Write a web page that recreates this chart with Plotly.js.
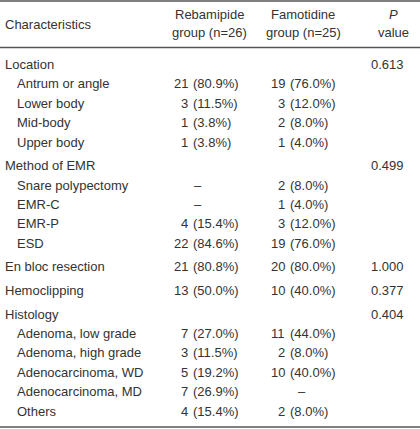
<!DOCTYPE html>
<html>
<head>
<meta charset="utf-8">
<script src="https://cdn.plot.ly/plotly-3.0.1.min.js"></script>
<style>html,body{margin:0;padding:0;background:#fff;}#chart{width:420px;height:429px;}</style>
</head>
<body>
<div id="chart"></div>
<script>
// ---- data ----
var labels = ["Location","Antrum or angle","Lower body","Mid-body","Upper body",
  "Method of EMR","Snare polypectomy","EMR-C","EMR-P","ESD",
  "En bloc resection","Hemoclipping",
  "Histology","Adenoma, low grade","Adenoma, high grade","Adenocarcinoma, WD","Adenocarcinoma, MD","Others"];
var level = [0,1,1,1,1, 0,1,1,1,1, 0,0, 0,1,1,1,1,1];
var groupIndex = [0,0,0,0,0, 1,1,1,1,1, 2,3, 4,4,4,4,4,4];
var rebCount = ["","21","3","1","1", "","","","4","22", "21","13", "","7","3","5","7","4"];
var rebPct   = ["","(80.9%)","(11.5%)","(3.8%)","(3.8%)", "","","","(15.4%)","(84.6%)", "(80.8%)","(50.0%)", "","(27.0%)","(11.5%)","(19.2%)","(26.9%)","(15.4%)"];
var famCount = ["","19","3","2","1", "","2","1","3","19", "20","10", "","11","2","10","","2"];
var famPct   = ["","(76.0%)","(12.0%)","(8.0%)","(4.0%)", "","(8.0%)","(4.0%)","(12.0%)","(76.0%)", "(80.0%)","(40.0%)", "","(44.0%)","(8.0%)","(40.0%)","","(8.0%)"];
var rebDash  = [false,false,false,false,false, false,true,true,false,false, false,false, false,false,false,false,false,false];
var famDash  = [false,false,false,false,false, false,false,false,false,false, false,false, false,false,false,false,true,false];
var pValue   = ["0.613","","","","", "0.499","","","","", "1.000","0.377", "0.404","","","","",""];
var headerCol1 = "Characteristics";
var headerReb = ["Rebamipide","group (n=26)"];
var headerFam = ["Famotidine","group (n=25)"];
var headerP = ["<i>P</i>","value"];

// ---- layout ----
var FONT = {family:"Liberation Sans, Arial, sans-serif", size:13, color:"#333333"};
var yStart = 64.5, pitch = 19.4, gap = 4.2;
var xLabel = [3,15], xRebSplit = 190, xFamSplit = 287, xP = 406, xRebDash = 198, xFamDash = 302;

var ann = [];
function add(x,y,text,anchor){
  ann.push({x:x,y:y,xref:'x',yref:'y',text:text,showarrow:false,xanchor:anchor,yanchor:'middle',font:FONT});
}
add(3,24,headerCol1,'left');
add(209,14.5,headerReb[0],'center'); add(209,32.5,headerReb[1],'center');
add(303,14.5,headerFam[0],'center'); add(303,32.5,headerFam[1],'center');
add(393,14.5,headerP[0],'center'); add(393,32.5,headerP[1],'center');

for (var i=0;i<labels.length;i++){
  var y = yStart + i*pitch + groupIndex[i]*gap;
  add(xLabel[level[i]], y, labels[i], 'left');
  if (rebCount[i]) { add(xRebSplit, y, rebCount[i], 'right'); add(xRebSplit+1, y, rebPct[i], 'left'); }
  if (rebDash[i]) add(xRebDash, y, "–", 'center');
  if (famCount[i]) { add(xFamSplit, y, famCount[i], 'right'); add(xFamSplit+1, y, famPct[i], 'left'); }
  if (famDash[i]) add(xFamDash, y, "–", 'center');
  if (pValue[i]) add(xP, y, pValue[i], 'right');
}

var lineStyle = {color:"#555555", width:1.5};
var shapes = [
  {type:'line',xref:'x',yref:'y',x0:0,x1:420,y0:1,y1:1,line:lineStyle},
  {type:'line',xref:'x',yref:'y',x0:0,x1:420,y0:47.5,y1:47.5,line:lineStyle},
  {type:'line',xref:'x',yref:'y',x0:0,x1:420,y0:427,y1:427,line:lineStyle}
];

Plotly.newPlot('chart', [{x:[0,420],y:[0,429],mode:'markers',marker:{opacity:0},hoverinfo:'skip',showlegend:false}], {
  width:420, height:429,
  margin:{l:0,r:0,t:0,b:0,pad:0},
  paper_bgcolor:'#fff', plot_bgcolor:'#fff',
  xaxis:{range:[0,420],visible:false,fixedrange:true},
  yaxis:{range:[429,0],visible:false,fixedrange:true},
  annotations:ann, shapes:shapes, showlegend:false
}, {staticPlot:true, displayModeBar:false});
</script>
</body>
</html>
